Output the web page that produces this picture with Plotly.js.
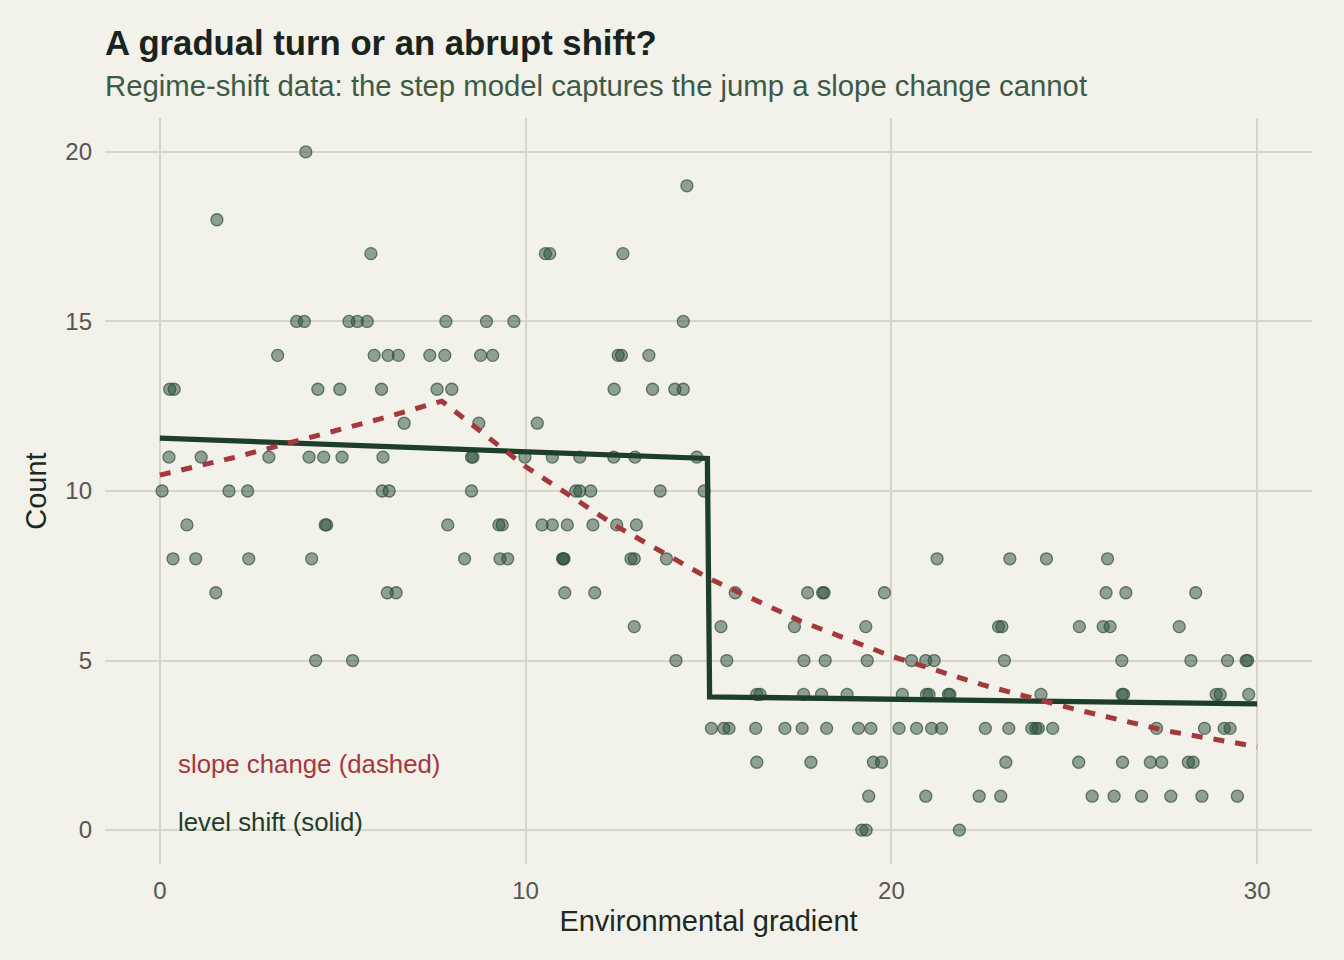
<!DOCTYPE html>
<html>
<head>
<meta charset="utf-8">
<script src="https://cdn.plot.ly/plotly-3.0.1.min.js"></script>
<style>
  html, body { margin: 0; padding: 0; background: #f2f1ea; }
  #chart { width: 1344px; height: 960px; }
</style>
</head>
<body>
<div id="chart"></div>
<script>
// Observations: position along the gradient and the observed count
const gradient = [
  3.99,
  14.41,
  1.56,
  5.77, 10.54, 10.66, 12.66,
  3.74, 3.95, 5.17, 5.40, 5.67, 7.82, 8.93, 9.68, 14.31,
  3.22, 5.86, 6.24, 6.52, 7.38, 7.79, 8.77, 9.10, 12.53, 12.62, 13.37,
  0.27, 0.39, 4.32, 4.92, 6.06, 7.58, 7.98, 12.42, 13.47, 14.08, 14.31,
  6.68, 8.72, 10.32,
  0.25, 1.13, 2.98, 4.08, 4.48, 4.98, 6.10, 8.52, 8.56, 9.98, 10.73, 11.48, 12.41, 12.99, 14.68,
  0.06, 1.89, 2.40, 6.08, 6.27, 8.52, 11.37, 11.48, 11.78, 13.68, 14.88,
  0.74, 4.52, 4.56, 7.87, 9.27, 9.36, 10.45, 10.73, 11.14, 11.84, 12.49, 13.03,
  0.36, 0.98, 2.43, 4.15, 8.33, 9.30, 9.51, 11.01, 11.03, 11.05, 12.88, 12.97, 13.85, 21.25, 23.24, 24.24, 25.91,
  1.53, 6.22, 6.46, 11.07, 11.89, 15.73, 17.71, 18.12, 18.16, 19.81, 25.87, 26.41, 28.32,
  12.97, 15.34, 17.35, 19.30, 22.93, 23.02, 25.14, 25.79, 25.98, 27.87,
  4.26, 5.27, 14.11, 15.50, 17.61, 18.19, 19.34, 20.55, 20.94, 21.17, 23.09, 26.30, 28.19, 29.19, 29.70, 29.74,
  16.32, 16.41, 17.60, 18.09, 18.79, 20.30, 20.96, 21.03, 21.56, 21.60, 24.09, 26.31, 26.35, 28.88, 28.99, 29.77,
  15.08, 15.42, 15.56, 16.29, 17.09, 17.56, 18.23, 19.10, 19.44, 20.21, 20.69, 21.10, 21.37, 22.57, 23.21, 23.84, 23.95, 24.02, 24.41, 27.25, 28.56, 29.10, 29.26,
  16.32, 17.80, 19.51, 19.73, 23.13, 25.12, 26.32, 27.08, 27.39, 28.12, 28.25,
  19.38, 20.94, 22.40, 22.99, 25.49, 26.09, 26.84, 27.64, 28.49, 29.46,
  19.19, 19.31, 21.86
];
const count = [
  20,
  19,
  18,
  17, 17, 17, 17,
  15, 15, 15, 15, 15, 15, 15, 15, 15,
  14, 14, 14, 14, 14, 14, 14, 14, 14, 14, 14,
  13, 13, 13, 13, 13, 13, 13, 13, 13, 13, 13,
  12, 12, 12,
  11, 11, 11, 11, 11, 11, 11, 11, 11, 11, 11, 11, 11, 11, 11,
  10, 10, 10, 10, 10, 10, 10, 10, 10, 10, 10,
  9, 9, 9, 9, 9, 9, 9, 9, 9, 9, 9, 9,
  8, 8, 8, 8, 8, 8, 8, 8, 8, 8, 8, 8, 8, 8, 8, 8, 8,
  7, 7, 7, 7, 7, 7, 7, 7, 7, 7, 7, 7, 7,
  6, 6, 6, 6, 6, 6, 6, 6, 6, 6,
  5, 5, 5, 5, 5, 5, 5, 5, 5, 5, 5, 5, 5, 5, 5, 5,
  4, 4, 4, 4, 4, 4, 4, 4, 4, 4, 4, 4, 4, 4, 4, 4,
  3, 3, 3, 3, 3, 3, 3, 3, 3, 3, 3, 3, 3, 3, 3, 3, 3, 3, 3, 3, 3, 3, 3,
  2, 2, 2, 2, 2, 2, 2, 2, 2, 2, 2,
  1, 1, 1, 1, 1, 1, 1, 1, 1, 1,
  0, 0, 0
];

// Fitted step (level shift) model
const levelX = [0, 14.97, 15.03, 30];
const levelY = [11.56, 10.96, 3.93, 3.72];

// Fitted broken-slope model
const slopeX = [0, 2, 4, 6, 7.71, 10, 12.5, 15, 17.5, 20, 22.5, 25, 27.5, 30];
const slopeY = [10.47, 10.98, 11.55, 12.12, 12.65, 10.72, 8.95, 7.43, 6.17, 5.13, 4.28, 3.57, 2.93, 2.46];

// Axis ticks
const xTicks = [0, 10, 20, 30];
const yTicks = [0, 5, 10, 15, 20];

const FONT = 'Liberation Sans, Arial, Helvetica, sans-serif';
const BG = '#f2f1ea';
const GRID = '#d6d6c6';
const GREEN = '#1e3e2c';
const RED = '#a4383a';

const traces = [
  {
    type: 'scatter', mode: 'markers',
    x: gradient, y: count,
    marker: {
      size: 12,
      color: 'rgba(44,79,58,0.5)',
      line: { color: 'rgba(44,79,58,0.7)', width: 1.3 }
    },
    hoverinfo: 'skip', showlegend: false
  },
  {
    type: 'scatter', mode: 'lines',
    x: levelX, y: levelY,
    line: { color: GREEN, width: 5.3, shape: 'linear' },
    hoverinfo: 'skip', showlegend: false
  },
  {
    type: 'scatter', mode: 'lines',
    x: slopeX, y: slopeY,
    line: { color: RED, width: 5, dash: '11px,11px', shape: 'linear' },
    hoverinfo: 'skip', showlegend: false
  }
];

const layout = {
  width: 1344, height: 960,
  paper_bgcolor: BG, plot_bgcolor: BG,
  font: { family: FONT },
  margin: { l: 105, r: 32, t: 118, b: 96, pad: 0 },
  showlegend: false,
  title: {
    text: '<b>A gradual turn or an abrupt shift?</b>',
    font: { family: FONT, size: 34.7, color: '#18241c' },
    xref: 'paper', x: 0, xanchor: 'left',
    yref: 'container', y: 1 - 43 / 960, yanchor: 'middle'
  },
  xaxis: {
    range: [-1.5, 31.5],
    tickvals: xTicks,
    ticktext: xTicks.map(String),
    showgrid: true, gridcolor: GRID, gridwidth: 2,
    zeroline: false, showline: false, ticks: '',
    ticklabelstandoff: 10,
    tickfont: { family: FONT, size: 24, color: '#555555' },
    title: { text: 'Environmental gradient', font: { family: FONT, size: 29, color: '#1c2a21' }, standoff: 7 }
  },
  yaxis: {
    range: [-1, 21],
    tickvals: yTicks,
    ticktext: yTicks.map(String),
    showgrid: true, gridcolor: GRID, gridwidth: 2,
    zeroline: false, showline: false, ticks: '',
    ticklabelstandoff: 12,
    tickfont: { family: FONT, size: 24, color: '#555555' },
    title: { text: 'Count', font: { family: FONT, size: 29, color: '#1c2a21' }, standoff: 10 }
  },
  annotations: [
    {
      xref: 'paper', yref: 'paper', x: -0.002, y: (864 - 86) / 746,
      xanchor: 'left', yanchor: 'middle', showarrow: false,
      text: 'Regime-shift data: the step model captures the jump a slope change cannot',
      font: { family: FONT, size: 29.3, color: '#3c5a46' }
    },
    {
      xref: 'x', yref: 'y', x: 0.45, y: 1.95,
      xanchor: 'left', yanchor: 'middle', showarrow: false,
      text: 'slope change (dashed)',
      font: { family: FONT, size: 25.8, color: RED }
    },
    {
      xref: 'x', yref: 'y', x: 0.45, y: 0.25,
      xanchor: 'left', yanchor: 'middle', showarrow: false,
      text: 'level shift (solid)',
      font: { family: FONT, size: 25.8, color: GREEN }
    }
  ]
};

Plotly.newPlot('chart', traces, layout, { staticPlot: true, displayModeBar: false });
</script>
</body>
</html>
